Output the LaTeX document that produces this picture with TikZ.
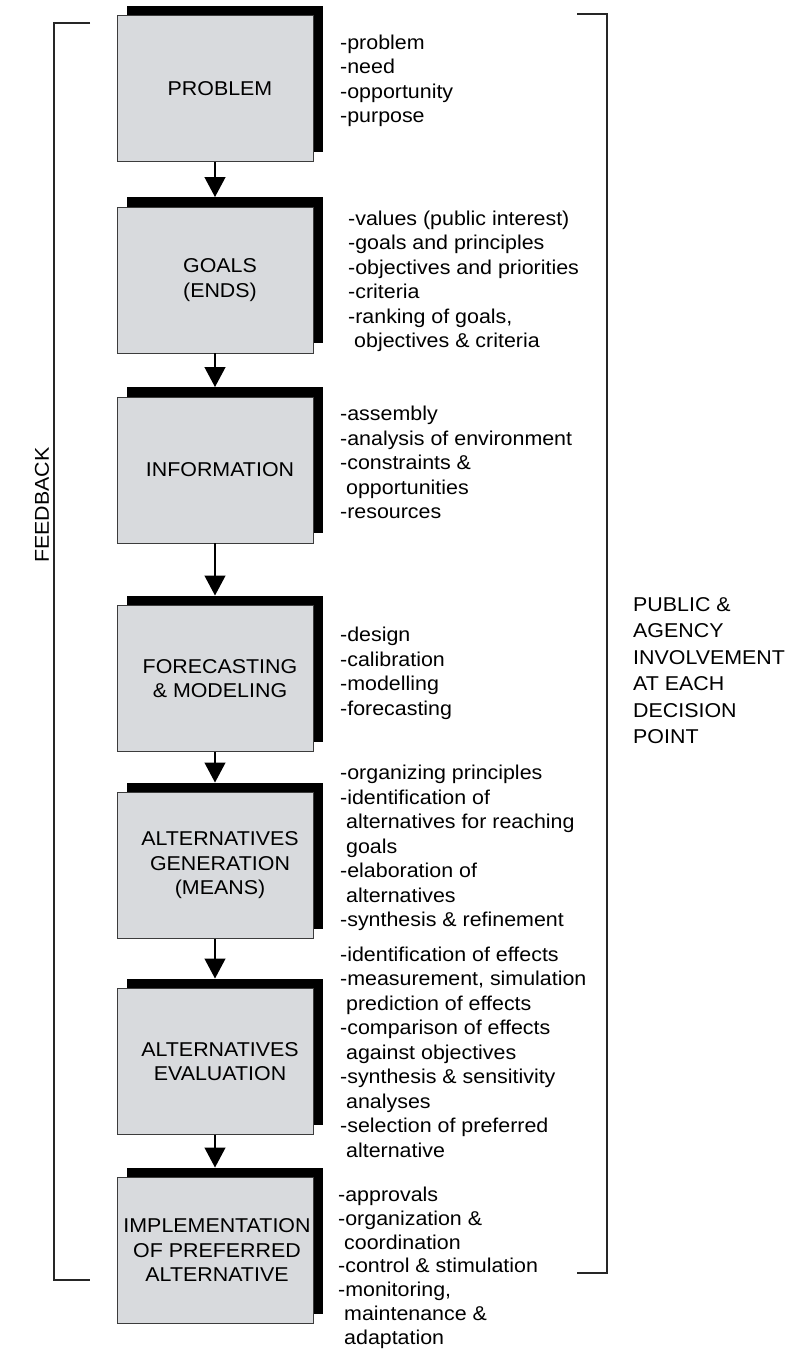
\documentclass[tikz,border=0pt]{standalone}
\usepackage{fontspec}
\newfontfamily\diafont[FakeStretch=1.07]{Liberation Sans}
\usetikzlibrary{arrows.meta,shadows}
\definecolor{boxfill}{RGB}{216,218,221}
\definecolor{boxline}{RGB}{60,60,60}
\newcommand\contindent{\hspace*{6pt}}
% fixed height for the first line, so that the top of a note lies 15pt above its first baseline
\newcommand\firstline{\rule{0pt}{15pt}}
\begin{document}
\begin{tikzpicture}[x=1pt,y=-1pt,
  stagebox/.style={draw=boxline,line width=1pt,fill=boxfill,
    minimum width=196pt,minimum height=146pt,inner sep=0pt,outer sep=0pt,
    drop shadow={shadow xshift=10pt,shadow yshift=10pt,fill=black,opacity=1}},
  stagetext/.style={font=\diafont\fontsize{20pt}{24.5pt}\selectfont,
    align=center,inner sep=0pt,xshift=5pt},
  notes/.style={font=\diafont\fontsize{20pt}{24.5pt}\selectfont,
    align=left,inner sep=0pt,anchor=north west,yshift=15pt},
  flow/.style={line width=1.2pt,-{Triangle[width=21pt,length=20pt]}},
  bracket/.style={line width=1.3pt,draw=black!85}]
\useasboundingbox (0,0) rectangle (789,1350);

% stage boxes with offset black shadow
\node[stagebox,label={[stagetext]center:PROBLEM}] (b1) at (215,88.5) {};
\node[stagebox,label={[stagetext]center:GOALS\\(ENDS)}] (b2) at (215,280) {};
\node[stagebox,label={[stagetext]center:INFORMATION}] (b3) at (215,470) {};
\node[stagebox,label={[stagetext]center:FORECASTING\\\& MODELING}] (b4) at (215,678.5) {};
\node[stagebox,label={[stagetext]center:ALTERNATIVES\\GENERATION\\(MEANS)}] (b5) at (215,865.5) {};
\node[stagebox,label={[stagetext]center:ALTERNATIVES\\EVALUATION}] (b6) at (215,1061.5) {};
\node[stagebox,label={[stagetext,xshift=-3pt]center:IMPLEMENTATION\\OF PREFERRED\\ALTERNATIVE}] (b7) at (215,1250.5) {};

% arrow targets on top of each shadow
\foreach \i in {2,...,7} {\coordinate (t\i) at ([yshift=10pt]b\i.north);}
\draw[flow] (b1.south) -- (t2);
\draw[flow] (b2.south) -- (t3);
\draw[flow] (b3.south) -- (t4);
\draw[flow] (b4.south) -- (t5);
\draw[flow] (b5.south) -- (t6);
\draw[flow] (b6.south) -- (t7);

% side notes (positions give the first baseline)
\node[notes] (n1) at (340,49) {\firstline-problem\\-need\\-opportunity\\-purpose};
\node[notes] (n2) at (348,225) {\firstline-values (public interest)\\-goals and principles\\-objectives and priorities\\-criteria\\-ranking of goals,\\\contindent objectives \& criteria};
\node[notes] (n3) at (340,420.5) {\firstline-assembly\\-analysis of environment\\-constraints \&\\\contindent opportunities\\-resources};
\node[notes] (n4) at (340,641.5) {\firstline-design\\-calibration\\-modelling\\-forecasting};
\node[notes] (n5) at (340,779.5) {\firstline-organizing principles\\-identification of\\\contindent alternatives for reaching\\\contindent goals\\-elaboration of\\\contindent alternatives\\-synthesis \& refinement};
\node[notes] (n6) at (340,961) {\firstline-identification of effects\\-measurement, simulation\\\contindent prediction of effects\\-comparison of effects\\\contindent against objectives\\-synthesis \& sensitivity\\\contindent analyses\\-selection of preferred\\\contindent alternative};
\node[notes,font=\diafont\fontsize{20pt}{23.9pt}\selectfont] (n7) at (338,1201) {\firstline-approvals\\-organization \&\\\contindent coordination\\-control \& stimulation\\-monitoring,\\\contindent maintenance \&\\\contindent adaptation};

% feedback bracket
\draw[bracket] (90,23) -- (54,23) -- (54,1280) -- (90,1280);
\node[font=\diafont\fontsize{20pt}{24.5pt}\selectfont,rotate=90,inner sep=0pt] (fb) at (42,505) {FEEDBACK};

% involvement bracket
\draw[bracket] (577,14) -- (607,14) -- (607,1273) -- (577,1273);
\node[notes,font=\diafont\fontsize{20pt}{26.5pt}\selectfont] (pub) at (633,611) {\firstline PUBLIC \&\\AGENCY\\INVOLVEMENT\\AT EACH\\DECISION\\POINT};
\end{tikzpicture}
\end{document}
